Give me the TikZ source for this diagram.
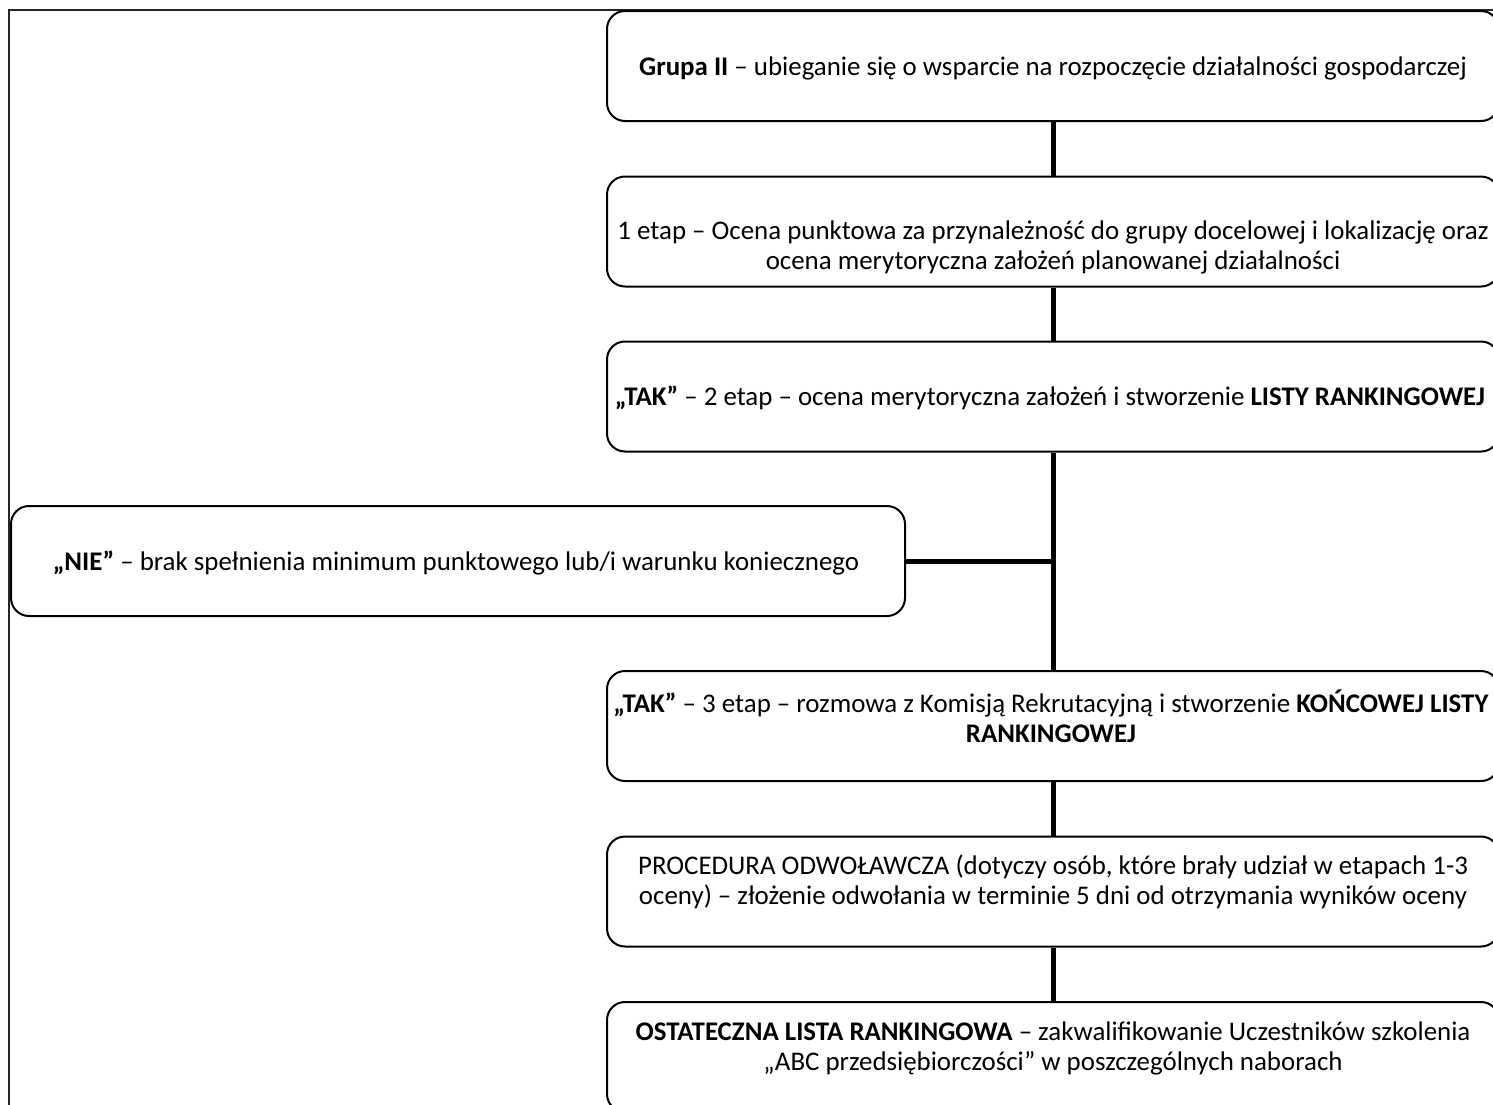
\documentclass[tikz,border=0pt]{standalone}
\usepackage{fontspec}
\setmainfont{Carlito}
\begin{document}
\begin{tikzpicture}[x=0.5pt,y=-0.5pt,
 box/.style={draw, line width=1pt, rounded corners=9pt, minimum height=55pt, minimum width=446pt, inner sep=0pt},
 txt/.style={align=center, font=\fontsize{13.45pt}{15pt}\selectfont, inner sep=0pt},
 link/.style={line width=2.5pt},
 frame/.style={line width=1pt, black!85}]
\useasboundingbox (0,0) rectangle (1493,1104);
\clip (0,0) rectangle (1493,1104);
\draw[frame] (9,10) rectangle (1530,1140);
% boxes
\node[box] (b1) at (1053,66) {};
\node[box] (b2) at (1053,231.5) {};
\node[box] (b3) at (1053,396.5) {};
\node[box, minimum width=447pt] (nie) at (458,561) {};
\node[box] (b4) at (1053,726) {};
\node[box] (b5) at (1053,891.5) {};
\node[box] (b6) at (1053,1057) {};
% texts
\node[txt] (t1) at (1053,68) {\textbf{Grupa II} – ubieganie się o wsparcie na rozpoczęcie działalności gospodarczej};
\node[txt] (t2) at (1053,247) {1 etap – Ocena punktowa za przynależność do grupy docelowej i lokalizację oraz\\ocena merytoryczna założeń planowanej działalności};
\node[txt] (t3) at (1050,398) {\textbf{„TAK”} – 2 etap – ocena merytoryczna założeń i stworzenie \textbf{LISTY RANKINGOWEJ}};
\node[txt] (tn) at (456,563) {\textbf{„NIE”} – brak spełnienia minimum punktowego lub/i warunku koniecznego};
\node[txt] (t4) at (1051,716) {\textbf{„TAK”} – 3 etap – rozmowa z Komisją Rekrutacyjną i stworzenie \textbf{KOŃCOWEJ LISTY}\\\textbf{RANKINGOWEJ}};
\node[txt] (t5) at (1053,882) {PROCEDURA ODWOŁAWCZA (dotyczy osób, które brały udział w etapach 1-3\\oceny) – złożenie odwołania w terminie 5 dni od otrzymania wyników oceny};
\node[txt] (t6) at (1053,1048) {\textbf{OSTATECZNA LISTA RANKINGOWA} – zakwalifikowanie Uczestników szkolenia\\„ABC przedsiębiorczości” w poszczególnych naborach};
% connectors
\draw[link] (b1.south) -- (b2.north);
\draw[link] (b2.south) -- (b3.north);
\draw[link] (b3.south) -- (b4.north);
\draw[link] (nie.east) -- (nie.east -| b3.south);
\draw[link] (b4.south) -- (b5.north);
\draw[link] (b5.south) -- (b6.north);
\end{tikzpicture}
\end{document}
